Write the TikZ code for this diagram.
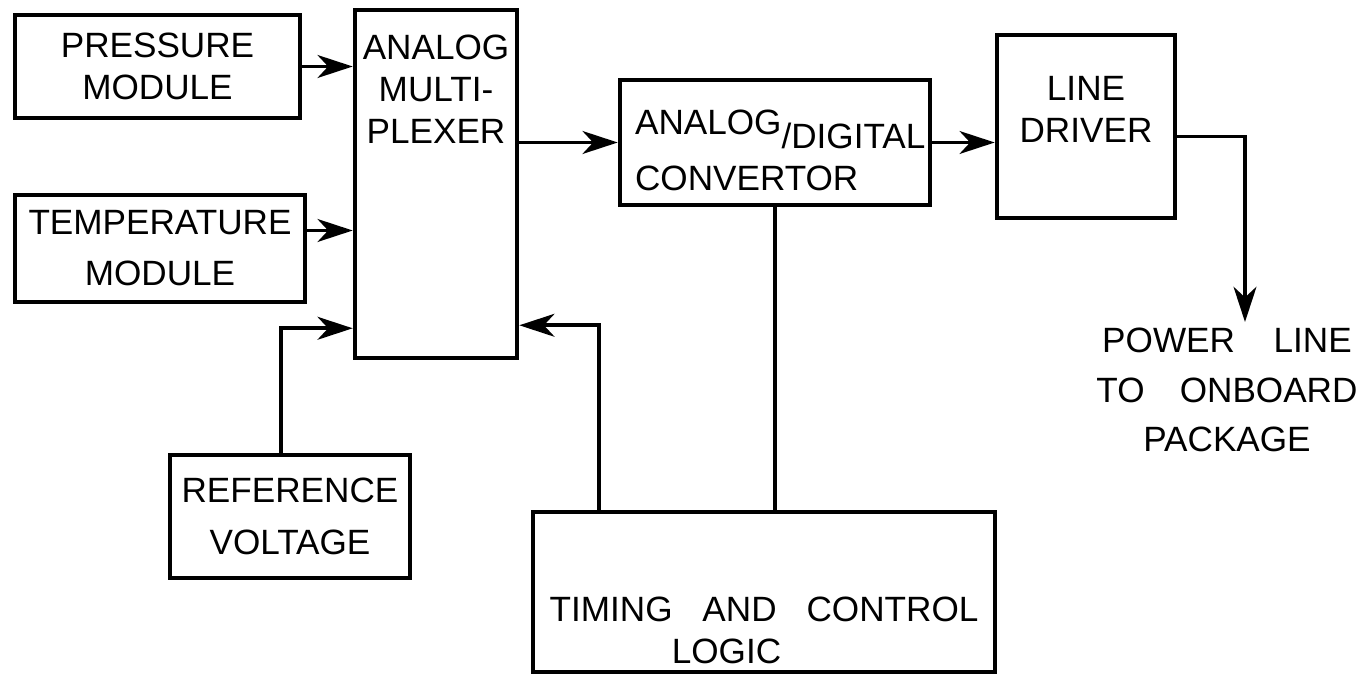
\documentclass[tikz,border=0pt]{standalone}
\usepackage{fontspec}
\setmainfont{Liberation Sans}
\usetikzlibrary{arrows.meta, positioning}

\begin{document}
\begin{tikzpicture}[
  blk/.style={draw,rectangle,line width=2.6pt,align=center,inner sep=0pt,
              font=\fontsize{20}{24}\selectfont},
  txt/.style={align=center,inner sep=0pt,font=\fontsize{20}{24}\selectfont},
  arr/.style={->,>={Stealth[length=20pt,width=13pt,inset=6pt]},line width=2.2pt},
  wire/.style={line width=2pt}
]
\useasboundingbox (0,0) rectangle (27.3,-13.52);
\node[blk,minimum width=5.7cm,minimum height=2.06cm] (press) at (3.15,-1.33) {PRESSURE\\MODULE};
\node[blk,minimum width=3.24cm,minimum height=6.96cm] (mux) at (8.72,-3.68) {};
\node[txt,anchor=north] (muxtxt) at ([yshift=-0.54cm]mux.north) {ANALOG\\MULTI-\\PLEXER};
\node[blk,minimum width=5.8cm,minimum height=2.14cm] (temp) at (3.2,-4.97) {TEMPERATURE\\[5pt]MODULE};
\node[blk,minimum width=4.8cm,minimum height=2.46cm] (ref) at (5.8,-10.33) {REFERENCE\\[6pt]VOLTAGE};
\node[blk,minimum width=6.2cm,minimum height=2.5cm] (adc) at (15.5,-2.85) {};
\node[txt,anchor=north west,align=left] (adctxt) at ([xshift=0.34cm,yshift=-0.64cm]adc.north west)
  {\raisebox{8pt}{ANALOG}/DIGITAL\\CONVERTOR};
\node[blk,minimum width=3.56cm,minimum height=3.66cm] (ld) at (21.72,-2.53) {};
\node[txt,anchor=north] (ldtxt) at ([yshift=-0.86cm]ld.north) {LINE\\DRIVER};
\node[blk,minimum width=9.24cm,minimum height=3.2cm] (tcl) at (15.28,-11.84) {};
\node[txt,anchor=south] (tcltxt) at ([yshift=0.2cm]tcl.south)
  {TIMING\hspace{0.85em}AND\hspace{0.85em}CONTROL\\LOGIC\hspace*{1.5cm}};
\node[txt,anchor=north] (pwr) at (24.54,-6.56)
  {POWER\hspace{1.1em}LINE\\[4pt]TO\hspace{1em}ONBOARD\\[4pt]PACKAGE};

\draw[arr] (press.east) -- (press.east -| mux.west);
\draw[arr] ([yshift=0.36cm]temp.east) -- ([yshift=0.36cm]temp.east -| mux.west);
\draw[arr] ([xshift=-0.18cm]ref.north) |- ([yshift=0.64cm]mux.south west);
\draw[arr] ([xshift=1.36cm]tcl.north west) |- ([yshift=0.7cm]mux.south east);
\draw[arr] (mux.east |- adc.west) -- (adc.west);
\draw[arr] (adc.east) -- (adc.east -| ld.west);
\draw[wire] (adc.south) -- (adc.south |- tcl.north);
\draw[arr] ([yshift=-0.2cm]ld.east) -| ([xshift=0.36cm,yshift=0.12cm]pwr.north);
\end{tikzpicture}
\end{document}
